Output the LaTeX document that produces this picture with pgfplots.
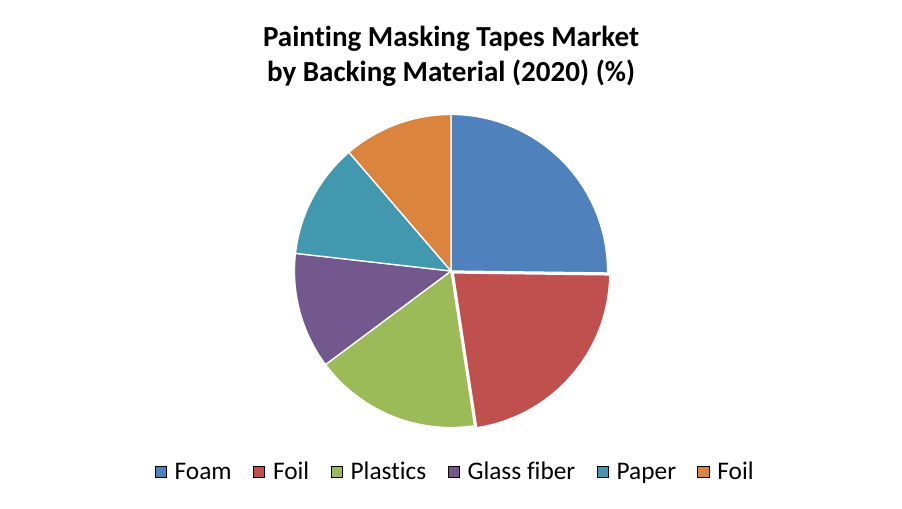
\documentclass[border=0pt]{standalone}
\usepackage{pgfplots}
\usepackage{pgfplotstable}
\pgfplotsset{compat=1.18}
\usepackage{fontspec}
\setmainfont{Carlito}[Ligatures=NoCommon]

\definecolor{cFoam}{RGB}{79,129,189}
\definecolor{cFoil}{RGB}{192,80,77}
\definecolor{cPlastics}{RGB}{155,187,89}
\definecolor{cGlass}{RGB}{114,88,140}
\definecolor{cPaper}{RGB}{66,152,174}
\definecolor{cFoilB}{RGB}{219,132,62}

% share of each backing material, clockwise from 12 o'clock
\pgfplotstableread{
label value color explode
Foam 25.2 cFoam 0
Foil 22.4 cFoil 2.2
Plastics 17.2 cPlastics 0
{Glass fiber} 12.0 cGlass 0
Paper 11.9 cPaper 0
Foil 11.3 cFoilB 0
}\piedata

\newcommand\pieR{117.4pt}

\begin{document}
\begin{tikzpicture}
% slice angles from the data
\gdef\cum{0}
\foreach \i in {0,...,5}{
  \pgfplotstablegetelem{\i}{value}\of\piedata \let\v=\pgfplotsretval
  \pgfplotstablegetelem{\i}{color}\of\piedata \let\c=\pgfplotsretval
  \pgfplotstablegetelem{\i}{explode}\of\piedata \let\e=\pgfplotsretval
  \pgfmathsetmacro\aS{90-3.6*\cum}
  \pgfmathsetmacro\aE{90-3.6*(\cum+\v)}
  \pgfmathsetmacro\aM{(\aS+\aE)/2}
  \expandafter\xdef\csname pieS\i\endcsname{\aS}
  \expandafter\xdef\csname pieE\i\endcsname{\aE}
  \expandafter\xdef\csname pieM\i\endcsname{\aM}
  \expandafter\xdef\csname pieC\i\endcsname{\c}
  \expandafter\xdef\csname pieX\i\endcsname{\e}
  \pgfmathsetmacro\nc{\cum+\v}
  \xdef\cum{\nc}
}
\begin{axis}[
    scale only axis,
    width=676.5pt, height=381pt,
    xmin=0, xmax=902, ymin=0, ymax=508,
    hide axis, clip=false,
    legend columns=6,
    legend style={at={(axis cs:455.5,36)}, anchor=center, draw=none, fill=none,
        font=\fontsize{19pt}{21pt}\selectfont,
        /tikz/every odd column/.append style={column sep=4pt},
        /tikz/every even column/.append style={column sep=14pt}},
    legend image code/.code={\fill[#1] (0pt,-4.2pt) rectangle (8.6pt,4.2pt);},
]
\path (axis cs:0,0) -- (axis cs:902,508);
\pgfplotsinvokeforeach{0,...,5}{
  \fill[\csname pieC#1\endcsname, draw=white, line width=1pt]
    ([shift={(\csname pieM#1\endcsname:\csname pieX#1\endcsname pt)}]axis cs:451,237)
    -- ++(\csname pieS#1\endcsname:\pieR)
    arc[start angle=\csname pieS#1\endcsname, end angle=\csname pieE#1\endcsname, radius=\pieR]
    -- cycle;
}
\addlegendimage{fill=cFoam}\addlegendentry{Foam}
\addlegendimage{fill=cFoil}\addlegendentry{Foil}
\addlegendimage{fill=cPlastics}\addlegendentry{Plastics}
\addlegendimage{fill=cGlass}\addlegendentry{Glass fiber}
\addlegendimage{fill=cPaper}\addlegendentry{Paper}
\addlegendimage{fill=cFoilB}\addlegendentry{Foil}
\node[font=\fontsize{21.8pt}{26.5pt}\selectfont\bfseries, align=center, anchor=center]
  at (axis cs:451,452) {Painting Masking Tapes Market\\by Backing Material (2020) (\%)};
\end{axis}
\end{tikzpicture}
\end{document}
